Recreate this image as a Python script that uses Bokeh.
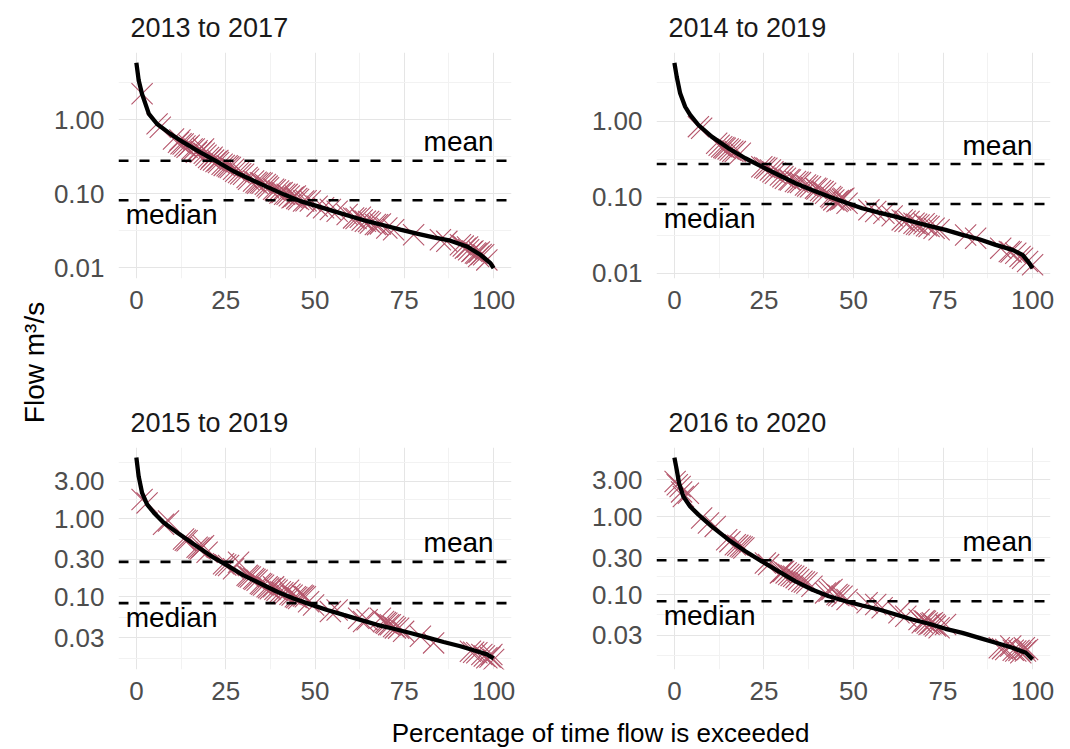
import math

from bokeh.plotting import figure
from bokeh.layouts import row, column
from bokeh.models import Range1d, FixedTicker, PrintfTickFormatter, Span, Label
from bokeh.embed import file_html
from bokeh.resources import INLINE

# ---------------------------------------------------------------------------
# Flow duration curves for four five-year windows (flow in m3/s against the
# percentage of time that flow is exceeded), plus spot observations.
# ---------------------------------------------------------------------------

periods = ["2013 to 2017", "2014 to 2019", "2015 to 2019", "2016 to 2020"]

# 2013 to 2017
fdc_pct_a = [0, 0.65, 1.6, 3.5, 5.8, 9.5, 13.2, 17.9, 22.6, 27.2, 31.9, 36.6, 41.2, 45.9,
             50.6, 55.2, 59.9, 64.6, 69.2, 73.9, 78.5, 83.2, 87.9, 92.5, 96.3, 99.1, 100]
fdc_flow_a = [5.84, 3.4, 2.2, 1.19, 0.87, 0.64, 0.49, 0.36, 0.27, 0.20, 0.156, 0.123, 0.0975,
              0.079, 0.0676, 0.0578, 0.0494, 0.0423, 0.0373, 0.0325, 0.0287, 0.0256, 0.0231,
              0.0193, 0.0149, 0.0115, 0.0098]
obs_pct_a = [1.6, 5.8, 6.7, 10.4, 11.8, 12.2, 12.5, 13.1, 13.6, 14.2, 14.8, 15.6, 16.2, 16.8,
             17.0, 17.9, 18.2, 18.8, 19.0, 19.5, 20.2, 20.8, 21.2, 21.6, 22.3, 22.8, 23.0,
             24.0, 24.6, 25.4, 25.8, 26.3, 27.2, 27.8, 28.6, 29.2, 30.0, 31.0, 31.4, 32.8,
             33.5, 33.9, 34.7, 35.2, 36.1, 36.6, 37.0, 38.4, 38.9, 39.8, 40.2, 40.8, 41.5,
             42.2, 42.8, 43.6, 44.0, 44.5, 44.9, 45.4, 46.8, 47.5, 48.7, 50.6, 52.4, 54.3,
             56.2, 59.0, 60.8, 61.5, 62.7, 63.2, 64.1, 65.0, 65.5, 66.9, 67.5, 68.3, 70.1,
             72.0, 77.6, 85.1, 86.9, 90.7, 91.5, 92.1, 92.7, 93.0, 93.9, 94.2, 94.9, 95.3,
             95.8, 96.0, 96.5, 97.2, 98.1]
obs_flow_a = [2.23, 0.873, 0.787, 0.546, 0.492, 0.53, 0.47, 0.467, 0.44, 0.421, 0.45, 0.399,
              0.40, 0.36, 0.379, 0.360, 0.37, 0.399, 0.35, 0.33, 0.307, 0.29, 0.31, 0.283,
              0.27, 0.28, 0.263, 0.249, 0.24, 0.237, 0.23, 0.225, 0.213, 0.20, 0.192, 0.185,
              0.182, 0.165, 0.156, 0.148, 0.142, 0.138, 0.140, 0.138, 0.133, 0.126, 0.120,
              0.114, 0.112, 0.108, 0.102, 0.103, 0.098, 0.0975, 0.093, 0.0878, 0.090, 0.0925,
              0.086, 0.0833, 0.0791, 0.080, 0.0791, 0.0676, 0.0642, 0.0609, 0.0578, 0.0521,
              0.0469, 0.046, 0.0479, 0.044, 0.0423, 0.042, 0.0401, 0.0381, 0.038, 0.0389,
              0.0343, 0.0325, 0.0278, 0.0238, 0.0226, 0.0203, 0.0195, 0.0183, 0.019, 0.0174,
              0.0165, 0.0168, 0.0157, 0.0155, 0.0141, 0.0162, 0.0150, 0.0149, 0.0127]
mean_a, median_a = 0.277, 0.081

# 2014 to 2019
fdc_pct_b = [0, 0.65, 1.6, 3.0, 4.4, 6.7, 10.4, 15.1, 19.8, 24.4, 29.1, 33.8, 38.4, 43.1,
             47.8, 52.4, 57.1, 61.8, 66.4, 71.1, 75.7, 80.4, 85.1, 89.7, 94.4, 97.2, 99.1, 100]
fdc_flow_b = [5.83, 3.82, 2.31, 1.54, 1.2, 0.886, 0.623, 0.438, 0.324, 0.251, 0.195, 0.152,
              0.124, 0.1016, 0.0847, 0.0713, 0.0626, 0.0554, 0.0477, 0.0418, 0.037, 0.0318,
              0.0279, 0.0235, 0.0202, 0.0174, 0.0135, 0.0116]
obs_pct_b = [6.7, 7.6, 11.8, 12.5, 13.2, 13.8, 14.2, 15.0, 15.6, 16.3, 17.0, 18.4, 24.4, 25.2,
             25.8, 26.8, 27.5, 28.2, 29.6, 30.3, 31.0, 32.0, 32.4, 33.8, 34.5, 35.2, 36.6,
             37.2, 38.0, 39.4, 39.8, 40.8, 41.5, 42.2, 43.6, 44.0, 44.5, 45.4, 45.8, 46.4,
             46.9, 47.3, 48.2, 54.3, 56.2, 58.5, 60.8, 63.6, 64.4, 65.5, 66.9, 67.6, 68.3,
             69.7, 70.4, 71.1, 72.5, 73.9, 81.3, 84.1, 91.1, 93.5, 94.0, 95.3, 96.5, 97.2,
             98.6, 100]
obs_flow_b = [0.843, 0.801, 0.509, 0.48, 0.460, 0.45, 0.438, 0.43, 0.416, 0.40, 0.396, 0.376,
              0.251, 0.245, 0.239, 0.227, 0.215, 0.206, 0.195, 0.185, 0.177, 0.170, 0.168,
              0.160, 0.157, 0.155, 0.144, 0.140, 0.137, 0.131, 0.128, 0.122, 0.118, 0.112,
              0.1016, 0.098, 0.0918, 0.0873, 0.090, 0.0918, 0.094, 0.0966, 0.0830, 0.0679,
              0.0645, 0.0613, 0.0566, 0.0501, 0.048, 0.0477, 0.0453, 0.044, 0.0431, 0.0445,
              0.042, 0.0410, 0.0390, 0.0371, 0.0318, 0.0288, 0.0213, 0.0192, 0.019, 0.0183,
              0.0165, 0.0157, 0.0142, 0.0129]
mean_b, median_b = 0.272, 0.081

# 2015 to 2019
fdc_pct_c = [0, 0.65, 1.6, 3.0, 4.9, 7.6, 11.4, 16.0, 20.7, 25.4, 30.0, 34.7, 39.4, 44.0,
             48.7, 53.4, 58.0, 62.7, 67.4, 72.0, 76.7, 81.3, 86.0, 90.7, 95.3, 98.1, 100]
fdc_flow_c = [6.04, 3.47, 2.13, 1.52, 1.19, 0.89, 0.665, 0.473, 0.337, 0.252, 0.188, 0.148,
              0.116, 0.0953, 0.080, 0.0678, 0.0586, 0.0507, 0.0438, 0.039, 0.0344, 0.0303,
              0.0264, 0.0233, 0.0201, 0.0183, 0.0163]
obs_pct_c = [1.6, 3.0, 7.6, 9.0, 13.2, 13.7, 14.2, 17.0, 17.5, 17.9, 18.3, 18.8, 19.8, 24.4,
             25.0, 25.8, 27.2, 28.6, 31.0, 31.4, 31.9, 32.8, 33.2, 33.8, 34.7, 35.1, 35.6,
             36.6, 37.0, 37.5, 38.4, 38.8, 39.4, 40.3, 41.0, 41.7, 42.6, 43.0, 43.6, 44.5,
             44.9, 45.4, 46.4, 46.8, 47.3, 48.2, 49.6, 54.3, 56.2, 62.2, 63.6, 64.6, 68.3,
             69.2, 69.7, 70.1, 70.6, 71.1, 72.0, 72.5, 73.4, 74.8, 79.5, 83.2, 93.5, 94.4,
             95.3, 96.7, 97.4, 98.1, 99.0, 99.5, 100]
obs_flow_c = [1.76, 1.59, 0.848, 0.934, 0.548, 0.53, 0.521, 0.430, 0.42, 0.409, 0.43, 0.451,
              0.371, 0.264, 0.255, 0.252, 0.228, 0.277, 0.188, 0.183, 0.179, 0.171, 0.167,
              0.163, 0.148, 0.145, 0.141, 0.134, 0.130, 0.127, 0.134, 0.125, 0.121, 0.116,
              0.113, 0.110, 0.121, 0.108, 0.105, 0.100, 0.098, 0.0953, 0.105, 0.102, 0.100,
              0.0865, 0.0785, 0.0646, 0.0678, 0.0532, 0.0483, 0.0507, 0.0532, 0.0483, 0.047,
              0.0460, 0.044, 0.0438, 0.0417, 0.040, 0.0397, 0.0361, 0.0312, 0.0257, 0.0201,
              0.0195, 0.0192, 0.0183, 0.0175, 0.0166, 0.017, 0.0183, 0.0158]
mean_c, median_c = 0.280, 0.083

# 2016 to 2020
fdc_pct_d = [0, 0.65, 1.3, 2.5, 4.4, 6.7, 10.4, 15.1, 19.8, 24.4, 29.1, 33.8, 38.4, 43.1,
             47.8, 52.4, 57.1, 61.8, 66.4, 71.1, 75.7, 80.4, 85.1, 89.7, 94.4, 98.1, 100]
fdc_flow_d = [5.81, 4.04, 2.72, 1.83, 1.36, 1.07, 0.755, 0.509, 0.361, 0.268, 0.199, 0.148,
              0.116, 0.0952, 0.082, 0.0722, 0.0641, 0.0553, 0.0477, 0.042, 0.0362, 0.0321,
              0.0277, 0.0239, 0.0206, 0.0178, 0.0146]
obs_pct_d = [0.2, 0.8, 1.6, 2.0, 2.5, 3.9, 7.6, 9.5, 11.4, 14.6, 15.5, 17.0, 17.7, 18.4, 18.9,
             19.4, 25.4, 26.3, 29.6, 30.0, 30.5, 31.2, 31.9, 32.6, 33.3, 34.0, 34.7, 35.6,
             36.3, 37.0, 38.4, 42.2, 43.2, 44.0, 45.4, 45.9, 46.8, 48.2, 53.8, 56.2, 58.0,
             62.7, 64.6, 68.3, 69.2, 69.7, 70.1, 70.6, 71.1, 71.6, 72.0, 72.5, 72.9, 73.9,
             75.7, 90.7, 91.6, 92.5, 93.9, 94.6, 95.3, 96.2, 96.7, 97.7, 98.0, 98.6]
obs_flow_d = [2.86, 2.6, 2.47, 2.1, 1.83, 2.02, 0.966, 0.834, 0.755, 0.509, 0.48, 0.439, 0.43,
              0.418, 0.41, 0.398, 0.255, 0.243, 0.190, 0.195, 0.199, 0.19, 0.181, 0.176,
              0.172, 0.165, 0.156, 0.148, 0.145, 0.141, 0.128, 0.105, 0.11, 0.116, 0.100,
              0.097, 0.0952, 0.0863, 0.0782, 0.0744, 0.0674, 0.0581, 0.0526, 0.0477, 0.0432,
              0.046, 0.0454, 0.043, 0.0412, 0.042, 0.0432, 0.041, 0.0392, 0.0373, 0.0412,
              0.0206, 0.0201, 0.0196, 0.0217, 0.0192, 0.0187, 0.019, 0.0178, 0.0206, 0.0187,
              0.0196]
mean_d, median_d = 0.276, 0.082

pct_breaks = [0, 25, 50, 75, 100]
flow_breaks_wide = [0.01, 0.10, 1.00]
flow_breaks_narrow = [0.03, 0.10, 0.30, 1.00, 3.00]

x_axis_title = "Percentage of time flow is exceeded"
y_axis_title = "Flow m³/s"

# ---------------------------------------------------------------------------
FONT = "'Liberation Sans', Arial, sans-serif"
OBS_COLOR = "#B5566B"
GRID_MAJOR = "#E5E5E5"
GRID_MINOR = "#F2F2F2"


def log_minor(breaks):
    """Half-way (in log space) between breaks, plus one step beyond each end."""
    logs = [math.log10(b) for b in breaks]
    mids = [(a + b) / 2 for a, b in zip(logs[:-1], logs[1:])]
    mids = [logs[0] - (logs[1] - logs[0]) / 2] + mids + [logs[-1] + (logs[-1] - logs[-2]) / 2]
    return [10 ** m for m in mids]


def padded_log_range(values, frac=0.05):
    lo, hi = math.log10(min(values)), math.log10(max(values))
    pad = (hi - lo) * frac
    return Range1d(10 ** (lo - pad), 10 ** (hi + pad))


def panel(title, pct, flow, o_pct, o_flow, mean_v, median_v, breaks,
          width, height, left, right, top, bottom):
    p = figure(width=width, height=height, title=title,
               y_axis_type="log",
               x_range=Range1d(-5, 105),
               y_range=padded_log_range(flow + o_flow),
               output_backend="svg", toolbar_location=None,
               min_border_left=left, min_border_right=right,
               min_border_top=top, min_border_bottom=bottom)
    p.outline_line_color = None
    p.background_fill_color = "white"
    p.border_fill_color = "white"

    p.title.text_font = FONT
    p.title.text_font_size = "27px"
    p.title.text_font_style = "normal"
    p.title.text_color = "#1A1A1A"
    p.title.align = "left"
    p.title.offset = 12
    p.title.standoff = 19

    p.xaxis.ticker = FixedTicker(ticks=pct_breaks,
                                 minor_ticks=[12.5, 37.5, 62.5, 87.5])
    p.yaxis.ticker = FixedTicker(ticks=breaks, minor_ticks=log_minor(breaks))
    p.yaxis.formatter = PrintfTickFormatter(format="%.2f")
    for ax in (p.xaxis, p.yaxis):
        ax.axis_line_color = None
        ax.major_tick_line_color = None
        ax.minor_tick_line_color = None
        ax.major_tick_out = 0
        ax.major_tick_in = 0
        ax.major_label_text_font = FONT
        ax.major_label_text_font_size = "26px"
        ax.major_label_text_color = "#4D4D4D"
    p.xaxis.major_label_standoff = 8
    p.yaxis.major_label_standoff = 10

    for g in (p.xgrid, p.ygrid):
        g.grid_line_color = GRID_MAJOR
        g.grid_line_width = 1
        g.minor_grid_line_color = GRID_MINOR
        g.minor_grid_line_width = 1

    # observations under the duration curve
    p.scatter(o_pct, o_flow, marker="x", size=30, line_color=OBS_COLOR,
              line_width=1.1, fill_color=None)
    p.line(pct, flow, line_color="black", line_width=4.3)

    for v in (mean_v, median_v):
        p.add_layout(Span(location=v, dimension="width", line_color="black",
                          line_width=2.6, line_dash="10 11"))

    p.add_layout(Label(x=100, y=mean_v, text="mean", text_align="right",
                       text_baseline="middle", y_offset=19,
                       text_font=FONT, text_font_size="28px", text_color="black"))
    p.add_layout(Label(x=-3, y=median_v, text="median", text_align="left",
                       text_baseline="middle", y_offset=-14,
                       text_font=FONT, text_font_size="28px", text_color="black"))
    return p


p1 = panel(periods[0], fdc_pct_a, fdc_flow_a, obs_pct_a, obs_flow_a, mean_a, median_a,
           flow_breaks_wide, 485, 345, 68, 24, 52, 67)
p2 = panel(periods[1], fdc_pct_b, fdc_flow_b, obs_pct_b, obs_flow_b, mean_b, median_b,
           flow_breaks_wide, 535, 345, 121, 20, 52, 67)
p3 = panel(periods[2], fdc_pct_c, fdc_flow_c, obs_pct_c, obs_flow_c, mean_c, median_c,
           flow_breaks_narrow, 485, 369, 68, 24, 102, 45)
p4 = panel(periods[3], fdc_pct_d, fdc_flow_d, obs_pct_d, obs_flow_d, mean_d, median_d,
           flow_breaks_narrow, 535, 369, 121, 20, 102, 45)


def text_strip(width, height):
    f = figure(width=width, height=height, x_range=Range1d(0, width),
               y_range=Range1d(0, height), x_axis_type=None, y_axis_type=None,
               output_backend="svg", toolbar_location=None, min_border=0)
    f.outline_line_color = None
    f.background_fill_color = "white"
    f.border_fill_color = "white"
    return f


ylab = text_strip(50, 714)
ylab.add_layout(Label(x=34, y=352, text=y_axis_title, angle=math.pi / 2,
                      text_align="center", text_baseline="middle",
                      text_font=FONT, text_font_size="28px", text_color="black"))

xlab = text_strip(1070, 35)
xlab.add_layout(Label(x=600, y=17, text=x_axis_title, text_align="center",
                      text_baseline="middle", text_font=FONT,
                      text_font_size="26px", text_color="black"))

layout = column(row(ylab, column(row(p1, p2), row(p3, p4))), xlab)

with open("out.html", "w") as fh:
    fh.write(file_html(layout, INLINE))
